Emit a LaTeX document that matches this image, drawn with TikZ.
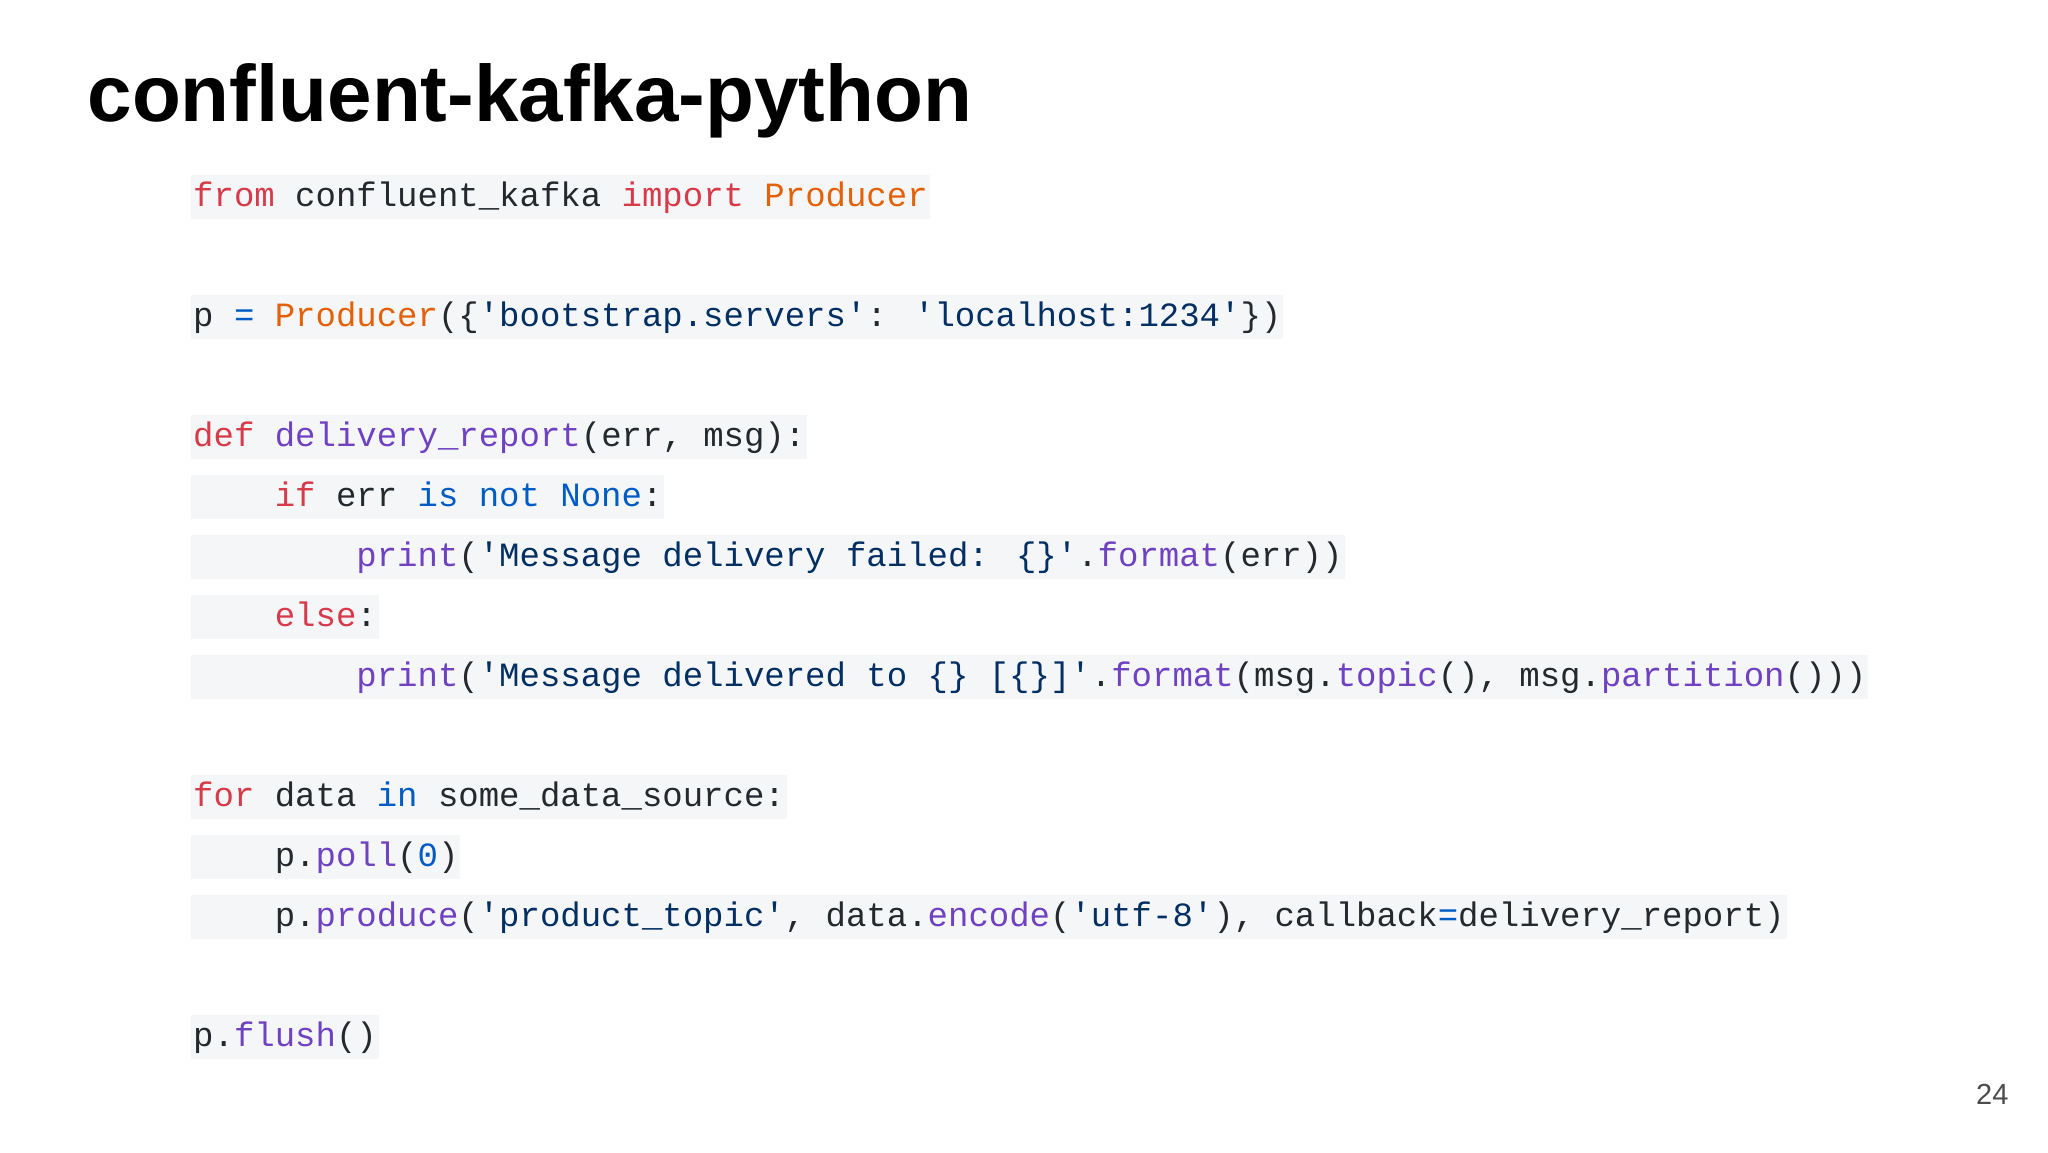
\documentclass[tikz,border=0pt]{standalone}
\usepackage{fontspec}
\setmainfont{Liberation Sans}
\newfontfamily\codefont{Liberation Mono}
\definecolor{codebg}{HTML}{F5F6F8}
\definecolor{ckw}{HTML}{D73A49}
\definecolor{cty}{HTML}{E36209}
\definecolor{cbl}{HTML}{005CC5}
\definecolor{cst}{HTML}{032F62}
\definecolor{cfn}{HTML}{6F42C1}
\definecolor{cdef}{HTML}{24292E}
\newcommand{\kw}[1]{\textcolor{ckw}{#1}}
\newcommand{\ty}[1]{\textcolor{cty}{#1}}
\newcommand{\bl}[1]{\textcolor{cbl}{#1}}
\newcommand{\stc}[1]{\textcolor{cst}{#1}}
\newcommand{\fn}[1]{\textcolor{cfn}{#1}}
\newcommand{\ind}[1]{\hspace*{#1\dimexpr 20.4pt\relax}}
\tikzset{codeline/.style={anchor=west,fill=codebg,inner xsep=2pt,inner ysep=5pt,
  text height=26pt,text depth=8pt,font=\fontsize{34}{40}\codefont,text=cdef}}
\begin{document}
\begin{tikzpicture}[x=1pt,y=-1pt]
\useasboundingbox[fill=white] (0,0) rectangle (2048,1152);
\node[anchor=west,font=\fontsize{80}{90}\selectfont\bfseries] (title) at (84,101) {confluent-kafka-python};
\node[codeline] (l1) at (191,197) {\kw{from} confluent\_kafka \kw{import} \ty{Producer}};
\node[codeline] (l2) at (191,317) {p \bl{=} \ty{Producer}(\{\stc{'bootstrap.servers'}: \stc{'localhost:1234'}\})};
\node[codeline] (l3) at (191,437) {\kw{def} \fn{delivery\_report}(err, msg):};
\node[codeline] (l4) at (191,497) {\ind{4}\kw{if} err \bl{is} \bl{not} \bl{None}:};
\node[codeline] (l5) at (191,557) {\ind{8}\fn{print}(\stc{'Message delivery failed: \{\}'}.\fn{format}(err))};
\node[codeline] (l6) at (191,617) {\ind{4}\kw{else}:};
\node[codeline] (l7) at (191,677) {\ind{8}\fn{print}(\stc{'Message delivered to \{\} [\{\}]'}.\fn{format}(msg.\fn{topic}(), msg.\fn{partition}()))};
\node[codeline] (l8) at (191,797) {\kw{for} data \bl{in} some\_data\_source:};
\node[codeline] (l9) at (191,857) {\ind{4}p.\fn{poll}(\bl{0})};
\node[codeline] (l10) at (191,917) {\ind{4}p.\fn{produce}(\stc{'product\_topic'}, data.\fn{encode}(\stc{'utf-8'}), callback\bl{=}delivery\_report)};
\node[codeline] (l11) at (191,1037) {p.\fn{flush}()};
\node[anchor=east,font=\fontsize{29}{34}\selectfont,text=black!70] (num) at (2012,1094) {24};
\end{tikzpicture}
\end{document}
